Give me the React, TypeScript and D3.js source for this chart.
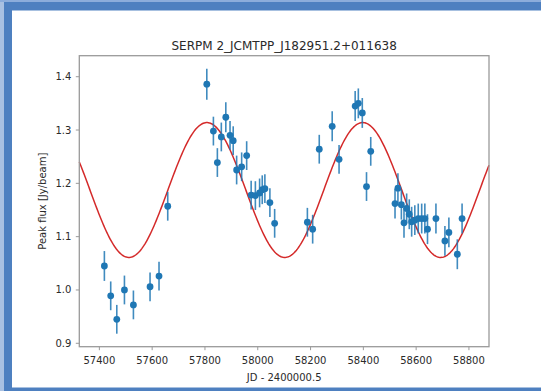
import * as d3 from 'd3';

// observation epochs (MJD) and peak flux with 1-sigma errors
const mjd = [
  57419, 57443, 57466, 57495, 57529, 57592, 57626, 57659,
  57807, 57832, 57847, 57862, 57879, 57895, 57907, 57920, 57939, 57958,
  57975, 57991, 58007, 58017, 58027, 58046, 58064,
  58188, 58208, 58233, 58282, 58308, 58369, 58381, 58396, 58412, 58428,
  58520, 58531, 58544, 58554, 58564, 58574, 58583, 58595, 58608, 58621,
  58633, 58643, 58675, 58709, 58724, 58756, 58774,
];
const flux = [
  1.045, 0.989, 0.945, 1.0, 0.972, 1.006, 1.026, 1.157,
  1.386, 1.298, 1.239, 1.287, 1.324, 1.29, 1.28, 1.225, 1.231, 1.252,
  1.178, 1.177, 1.182, 1.188, 1.19, 1.164, 1.125,
  1.127, 1.114, 1.264, 1.307, 1.245, 1.345, 1.35, 1.332, 1.194, 1.26,
  1.162, 1.191, 1.16, 1.126, 1.153, 1.142, 1.128, 1.131, 1.134, 1.134,
  1.134, 1.114, 1.134, 1.092, 1.108, 1.067, 1.134,
];
const fluxErr = [
  0.028, 0.027, 0.027, 0.027, 0.027, 0.027, 0.027, 0.027,
  0.029, 0.027, 0.027, 0.027, 0.028, 0.027, 0.027, 0.027, 0.027, 0.027,
  0.027, 0.027, 0.027, 0.027, 0.027, 0.027, 0.027,
  0.027, 0.027, 0.027, 0.028, 0.027, 0.028, 0.028, 0.028, 0.027, 0.027,
  0.028, 0.028, 0.028, 0.028, 0.028, 0.028, 0.028, 0.028, 0.028, 0.028,
  0.028, 0.028, 0.028, 0.028, 0.028, 0.028, 0.028,
];

// sinusoid fit
const fitPeriod = 590.5;
const fitMinEpoch = 57512;
const fitMean = 1.1875;
const fitAmp = 0.1265;

const xTicks = [57400, 57600, 57800, 58000, 58200, 58400, 58600, 58800];
const yTicks = [0.9, 1.0, 1.1, 1.2, 1.3, 1.4];

const title = 'SERPM 2_JCMTPP_J182951.2+011638';
const xLabel = 'JD - 2400000.5';
const yLabel = 'Peak flux [Jy/beam]';

export default function App() {
  const width = 541;
  const height = 391;
  const plot = { left: 79.3, right: 489, top: 55.7, bottom: 346.7 };

  const x = d3.scaleLinear().domain([57324, 58876]).range([plot.left, plot.right]);
  const y = d3.scaleLinear().domain([0.8936, 1.4394]).range([plot.bottom, plot.top]);

  const fit = (t: number) =>
    fitMean - fitAmp * Math.cos((2 * Math.PI * (t - fitMinEpoch)) / fitPeriod);
  const [x0, x1] = x.domain();
  const curve = d3.range(0, 401).map((i) => x0 + ((x1 - x0) * i) / 400);
  const line = d3
    .line<number>()
    .x((t) => x(t))
    .y((t) => y(fit(t)));

  const font = 'DejaVu Sans, sans-serif';
  const textColor = '#2a2a2a';
  const spine = '#9a9a9a';
  const blue = '#1f77b4';

  return (
    <svg
      width={width}
      height={height}
      style={{ position: 'absolute', left: 0, top: 0 }}
      fontFamily={font}
    >
      {/* frame */}
      <rect x={0} y={0} width={width} height={height} fill="#4e80c0" />
      <rect x={0} y={0} width={4} height={height} fill="#a9c1e2" />
      <rect x={0} y={0} width={width} height={2} fill="#8caddb" />
      <rect x={12} y={10.5} width={width - 12} height={377} fill="#fff" />

      <text x={(plot.left + plot.right) / 2} y={50} textAnchor="middle" fontSize={12} fill={textColor}>
        {title}
      </text>

      {/* fit */}
      <path d={line(curve) ?? ''} fill="none" stroke="#d42a2a" strokeWidth={1.5} />

      {/* error bars and points */}
      <g>
        {mjd.map((t, i) => (
          <line
            key={`e${i}`}
            x1={x(t)}
            x2={x(t)}
            y1={y(flux[i] - fluxErr[i])}
            y2={y(flux[i] + fluxErr[i])}
            stroke={blue}
            strokeWidth={1.6}
            opacity={0.85}
          />
        ))}
        {mjd.map((t, i) => (
          <circle key={`p${i}`} cx={x(t)} cy={y(flux[i])} r={3.4} fill={blue} />
        ))}
      </g>

      {/* axes box */}
      <rect
        x={plot.left}
        y={plot.top}
        width={plot.right - plot.left}
        height={plot.bottom - plot.top}
        fill="none"
        stroke={spine}
        strokeWidth={1.3}
      />

      {xTicks.map((t) => (
        <g key={`x${t}`} transform={`translate(${x(t)},${plot.bottom})`}>
          <line y1={0} y2={3.5} stroke={spine} strokeWidth={1} />
          <text y={17} textAnchor="middle" fontSize={10} fill={textColor}>
            {t}
          </text>
        </g>
      ))}
      {yTicks.map((v) => (
        <g key={`y${v}`} transform={`translate(${plot.left},${y(v)})`}>
          <line x1={0} x2={-3.5} stroke={spine} strokeWidth={1} />
          <text x={-8} dy="0.35em" textAnchor="end" fontSize={10} fill={textColor}>
            {v.toFixed(1)}
          </text>
        </g>
      ))}

      <text x={(plot.left + plot.right) / 2} y={381} textAnchor="middle" fontSize={10} fill={textColor}>
        {xLabel}
      </text>
      <text
        transform={`translate(46,${(plot.top + plot.bottom) / 2}) rotate(-90)`}
        textAnchor="middle"
        fontSize={10}
        fill={textColor}
      >
        {yLabel}
      </text>
    </svg>
  );
}
